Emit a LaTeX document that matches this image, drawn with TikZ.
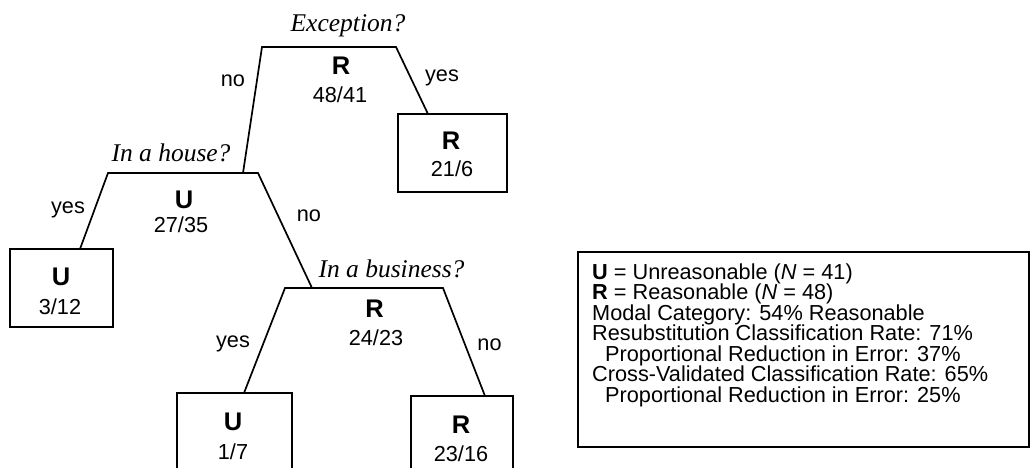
\documentclass[tikz,border=0pt]{standalone}
\usepackage{fontspec}
\setmainfont{Liberation Sans}
\newfontfamily\timesface{Liberation Serif}

\tikzset{
  edge/.style={line width=1.7pt, line join=miter},
  leaf/.style={draw, line width=1.7pt, inner sep=0pt},
  question/.style={anchor=base, inner sep=0pt,
    font=\fontsize{25.5}{30}\selectfont\timesface\itshape},
  cls/.style={anchor=base, inner sep=0pt,
    font=\fontsize{25.5}{30}\selectfont\bfseries},
  cnt/.style={anchor=base, inner sep=0pt,
    font=\fontsize{21.7}{26}\selectfont},
  branch/.style={cnt},
  legendline/.style={anchor=base west, inner sep=0pt,
    font=\fontsize{21.7}{26}\selectfont},
}

\begin{document}
\begin{tikzpicture}[x=1pt, y=-1pt]
\clip (0,0) rectangle (1034,468);

% ---- root split: Exception? ----
\node[question] (q1) at (348,32) {Exception?};
\coordinate (s1a) at (262,47);
\coordinate (s1b) at (396,47);
\node[cls] (c1) at (341,75) {R};
\node[cnt] (n1) at (340,103) {48/41};
\node[branch] (b1no) at (233,87) {no};
\node[branch] (b1yes) at (442,82) {yes};

% leaf: exception = yes
\node[leaf, minimum width=109pt, minimum height=78pt] (l1) at (452.5,153) {};
\coordinate (l1t) at (428,114);
\node[cls] (l1c) at (451,150) {R};
\node[cnt] (l1n) at (452,176) {21/6};

% ---- split: In a house? ----
\node[question] (q2) at (171,162) {In a house?};
\coordinate (s2a) at (108,173);
\coordinate (s2b) at (258,173);
\coordinate (s2in) at (243,173);
\node[cls] (c2) at (184,208) {U};
\node[cnt] (n2) at (181,233) {27/35};
\node[branch] (b2yes) at (68,213) {yes};
\node[branch] (b2no) at (309,222) {no};

% leaf: in a house = yes
\node[leaf, minimum width=103pt, minimum height=78pt] (l2) at (61.5,288) {};
\coordinate (l2t) at (80,249);
\node[cls] (l2c) at (61,285) {U};
\node[cnt] (l2n) at (60,314) {3/12};

% ---- split: In a business? ----
\node[question] (q3) at (391.5,277) {In a business?};
\coordinate (s3a) at (285,288);
\coordinate (s3b) at (443,288);
\coordinate (s3in) at (312,288);
\node[cls] (c3) at (374.5,317) {R};
\node[cnt] (n3) at (376,345) {24/23};
\node[branch] (b3yes) at (233,347) {yes};
\node[branch] (b3no) at (489.5,350) {no};

% leaves of the business split
\node[leaf, minimum width=115pt, minimum height=78pt] (l3) at (234.5,432) {};
\coordinate (l3t) at (244,393);
\node[cls] (l3c) at (233,430) {U};
\node[cnt] (l3n) at (233,459) {1/7};

\node[leaf, minimum width=102pt, minimum height=78pt] (l4) at (462,435) {};
\coordinate (l4t) at (485,396);
\node[cls] (l4c) at (461,433) {R};
\node[cnt] (l4n) at (461,461) {23/16};

% ---- branches ----
\draw[edge] (s2in) -- (s1a) -- (s1b) -- (l1t);
\draw[edge] (l2t) -- (s2a) -- (s2b) -- (s3in);
\draw[edge] (l3t) -- (s3a) -- (s3b) -- (l4t);

% ---- legend ----
\node[leaf, minimum width=451pt, minimum height=195pt] (legend) at (803.5,349.5) {};
\node[legendline] (g1) at (592,279) {\textbf{U} = Unreasonable (\textit{N} = 41)};
\node[legendline] (g2) at (592,299.5) {\textbf{R} = Reasonable (\textit{N} = 48)};
\node[legendline] (g3) at (592,320) {Modal Category: 54\% Reasonable};
\node[legendline] (g4) at (592,340.5) {Resubstitution Classification Rate: 71\%};
\node[legendline] (g5) at (605,361) {Proportional Reduction in Error: 37\%};
\node[legendline] (g6) at (592,381.5) {Cross-Validated Classification Rate: 65\%};
\node[legendline] (g7) at (605,402) {Proportional Reduction in Error: 25\%};
\end{tikzpicture}
\end{document}
